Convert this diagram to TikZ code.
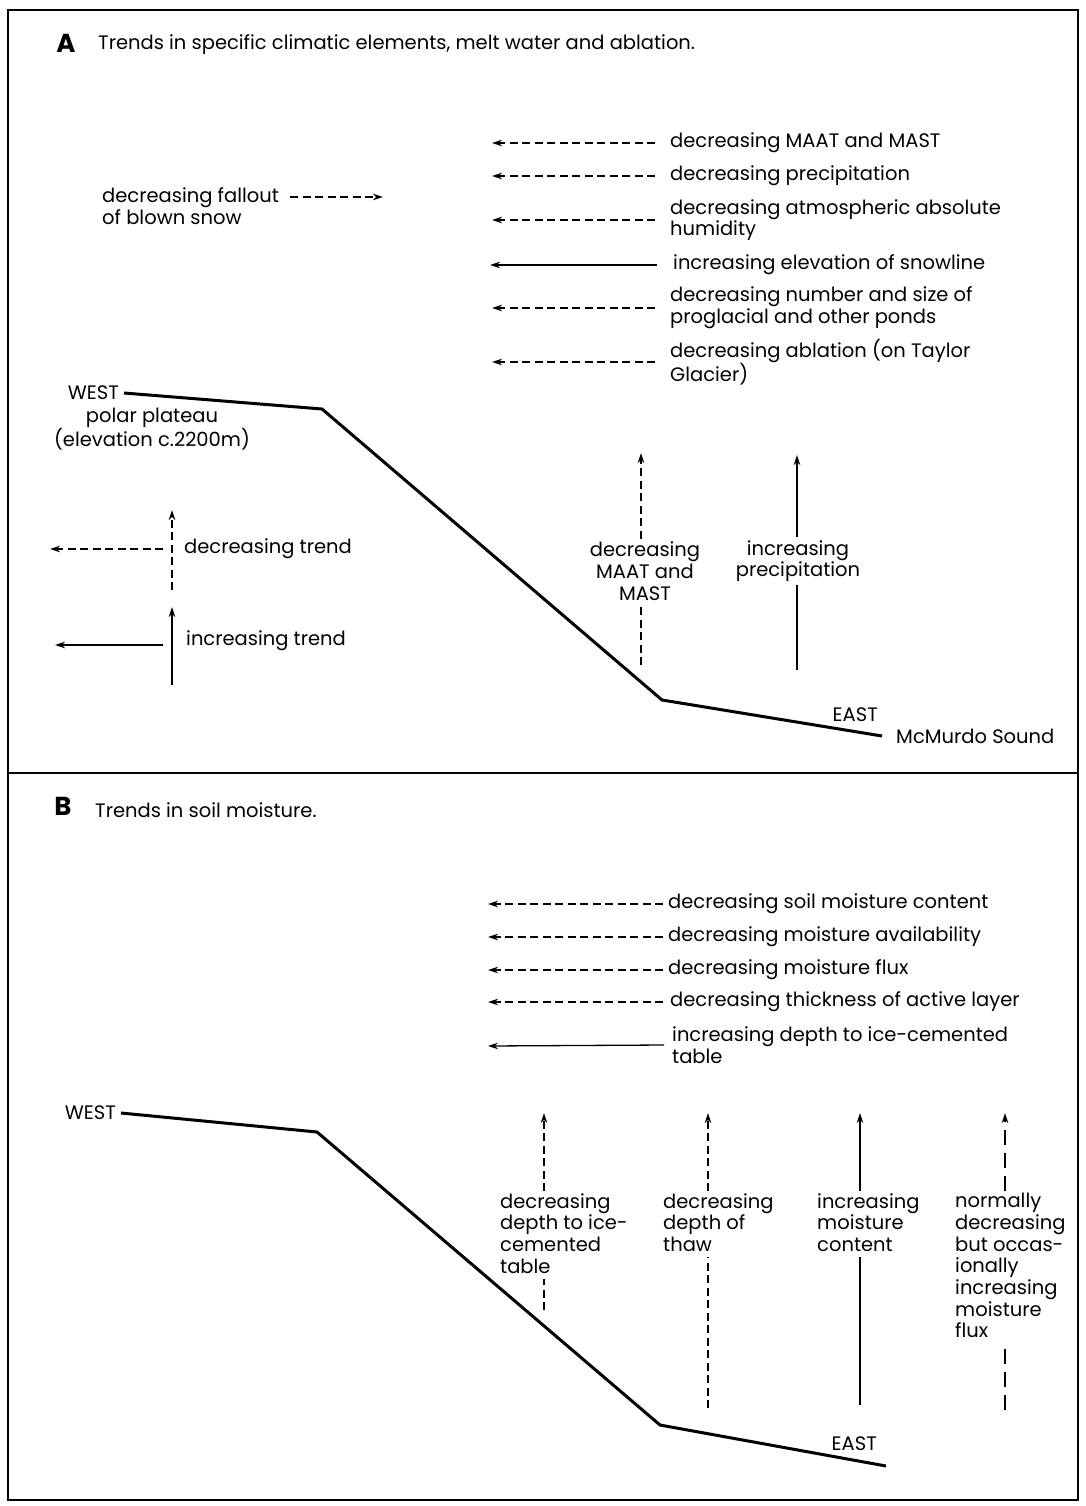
\documentclass[tikz,border=0pt]{standalone}
\usepackage{fontspec}
\setmainfont{Poppins}
\usetikzlibrary{arrows.meta}
\tikzset{
  lbl/.style={font=\fontsize{19.5}{21.7}\selectfont, inner sep=0pt, align=left},
  ttl/.style={font=\fontsize{19.5}{22}\selectfont, inner sep=0pt, anchor=west},
  panel/.style={font=\bfseries\fontsize{26}{26}\selectfont, inner sep=0pt},
  trend/.style={line width=1.3pt, -{Stealth[length=10pt,width=6.5pt]}},
  dec/.style={trend, dash pattern=on 8pt off 4.5pt},
  decl/.style={trend, dash pattern=on 15pt off 8pt},
  thin/.style={line width=1.3pt},
  thind/.style={thin, dash pattern=on 8pt off 4.5pt},
  thindl/.style={thin, dash pattern=on 15pt off 8pt},
  ground/.style={line width=3pt, line join=miter},
}
\begin{document}
\begin{tikzpicture}[x=1pt, y=-1pt]
    \useasboundingbox (0,0) rectangle (1086,1506);
    \draw[line width=2.5pt] (8,10) rectangle (1078,1500);
    \draw[line width=2pt] (8,773) -- (1078,773);

    % panel A
    \node[panel] (capA) at (66,43) {A};
    \node[ttl] (titleA) at (98,45) {Trends in specific climatic elements, melt water and ablation.};

    \node[lbl, anchor=west] (maat) at (670,143) {decreasing MAAT and MAST};
    \node[lbl, anchor=west] (prec) at (670,176) {decreasing precipitation};
    \node[lbl, anchor=west] (humid) at (670,220) {decreasing atmospheric absolute\\humidity};
    \node[lbl, anchor=west] (snow) at (673,265) {increasing elevation of snowline};
    \node[lbl, anchor=west] (ponds) at (670,308) {decreasing number and size of\\proglacial and other ponds};
    \node[lbl, anchor=west] (ablat) at (670,362) {decreasing ablation (on Taylor\\Glacier)};
    \coordinate (maatW) at (492,143);
    \coordinate (precW) at (492,176);
    \coordinate (humidW) at (492,220);
    \coordinate (snowW) at (490,265);
    \coordinate (pondsW) at (492,308);
    \coordinate (ablatW) at (492,362);
    \draw[dec] ([xshift=-15pt]maat.west) -- (maatW);
    \draw[dec] ([xshift=-15pt]prec.west) -- (precW);
    \draw[dec] ([xshift=-15pt]humid.west) -- (humidW);
    \draw[trend] ([xshift=-16pt]snow.west) -- (snowW);
    \draw[dec] ([xshift=-15pt]ponds.west) -- (pondsW);
    \draw[dec] ([xshift=-15pt]ablat.west) -- (ablatW);

    \node[lbl, anchor=west] (fallout) at (102,206) {decreasing fallout\\of blown snow};
    \coordinate (fallS) at (290,197);
    \coordinate (fallE) at (383,197);
    \draw[dec] (fallS) -- (fallE);

    \node[lbl, anchor=east] (westA) at (119,393) {WEST};
    \coordinate (kA1) at (322,409);
    \coordinate (kA2) at (662,700);
    \coordinate (eA) at (882,736);
    \draw[ground] ([xshift=5pt]westA.east) -- (kA1) -- (kA2) -- (eA);
    \node[lbl, align=center] (plateau) at (152,429) {polar plateau\\(elevation c.2200m)};
    \node[lbl, anchor=south east] (eastA) at (878,722) {EAST};
    \node[lbl, anchor=west] (mcmurdo) at (896,736) {McMurdo Sound};

    \node[lbl, anchor=west] (dtrend) at (184,549) {decreasing trend};
    \coordinate (dtLeft) at (50,549);
    \coordinate (dtUp) at (172,510);
    \coordinate (dtLow) at (172,590);
    \draw[dec] ([xshift=-21pt]dtrend.west) -- (dtLeft);
    \draw[dec] (dtLow) -- (dtUp);
    \node[lbl, anchor=west] (itrend) at (186,641) {increasing trend};
    \coordinate (itLeft) at (55,645);
    \coordinate (itUp) at (172,607);
    \coordinate (itLow) at (172,685);
    \draw[trend] (163,645) -- (itLeft);
    \draw[trend] (itLow) -- (itUp);

    \node[lbl, align=center, inner sep=3pt] (mast) at (645,571) {decreasing\\MAAT and\\MAST};
    \coordinate (mastTop) at (641,453);
    \coordinate (mastBot) at (641,665);
    \draw[dec] (mast.north -| mastTop) -- (mastTop);
    \draw[thind] (mastBot) -- (mast.south -| mastBot);
    \node[lbl, align=center, inner sep=3pt] (precip) at (798,561) {increasing\\precipitation};
    \coordinate (precTop) at (797,455);
    \coordinate (precBot) at (797,670);
    \draw[trend] (precip.north -| precTop) -- (precTop);
    \draw[thin] (precBot) -- (precip.south -| precBot);

    % panel B
    \node[panel] (capB) at (63,806) {B};
    \node[ttl] (titleB) at (95,810) {Trends in soil moisture.};

    \node[lbl, anchor=west] (soil) at (668,904) {decreasing soil moisture content};
    \node[lbl, anchor=west] (avail) at (668,937) {decreasing moisture availability};
    \node[lbl, anchor=west] (flux) at (668,970) {decreasing moisture flux};
    \node[lbl, anchor=west] (active) at (670,1002) {decreasing thickness of active layer};
    \node[lbl, anchor=west] (depth) at (672,1045) {increasing depth to ice-cemented\\table};
    \coordinate (soilW) at (488,904);
    \coordinate (availW) at (488,937);
    \coordinate (fluxW) at (488,970);
    \coordinate (activeW) at (488,1002);
    \coordinate (depthW) at (488,1046);
    \draw[dec] ([xshift=-5pt]soil.west) -- (soilW);
    \draw[dec] ([xshift=-5pt]avail.west) -- (availW);
    \draw[dec] ([xshift=-5pt]flux.west) -- (fluxW);
    \draw[dec] ([xshift=-7pt]active.west) -- (activeW);
    \draw[trend] ([xshift=-8pt]depth.west) -- (depthW);

    \node[lbl, anchor=east] (westB) at (116,1113) {WEST};
    \coordinate (kB1) at (317,1132);
    \coordinate (kB2) at (660,1425);
    \coordinate (eB) at (886,1466);
    \draw[ground] ([xshift=5pt]westB.east) -- (kB1) -- (kB2) -- (eB);
    \node[lbl, anchor=south east] (eastB) at (877,1451) {EAST};

    \node[lbl, anchor=north west] (icet) at (500,1193) {decreasing\\depth to ice-\\cemented\\table};
    \coordinate (icetTop) at (544,1113);
    \coordinate (icetBot) at (544,1310);
    \draw[dec] ([yshift=2pt]icet.north -| icetTop) -- (icetTop);
    \draw[thind] (icetBot) -- ([yshift=-5pt]icet.south -| icetBot);

    \node[lbl, anchor=north west] (thaw) at (663,1193) {decreasing\\depth of\\thaw};
    \coordinate (thawTop) at (708,1113);
    \coordinate (thawBot) at (708,1408);
    \draw[dec] ([yshift=2pt]thaw.north -| thawTop) -- (thawTop);
    \draw[thind] (thawBot) -- ([yshift=-5pt]thaw.south -| thawBot);

    \node[lbl, anchor=north west] (moist) at (817,1193) {increasing\\moisture\\content};
    \coordinate (moistTop) at (860,1113);
    \coordinate (moistBot) at (860,1405);
    \draw[trend] ([yshift=2pt]moist.north -| moistTop) -- (moistTop);
    \draw[thin] (moistBot) -- ([yshift=-5pt]moist.south -| moistBot);

    \node[lbl, anchor=north west] (occas) at (955,1193) {normally\\decreasing\\but occas-\\ionally\\increasing\\moisture\\flux};
    \coordinate (occasTop) at (1005,1113);
    \coordinate (occasBot) at (1005,1410);
    \draw[decl] ([yshift=2pt]occas.north -| occasTop) -- (occasTop);
    \draw[thindl] (occasBot) -- ([yshift=-5pt]occas.south -| occasBot);
\end{tikzpicture}
\end{document}
